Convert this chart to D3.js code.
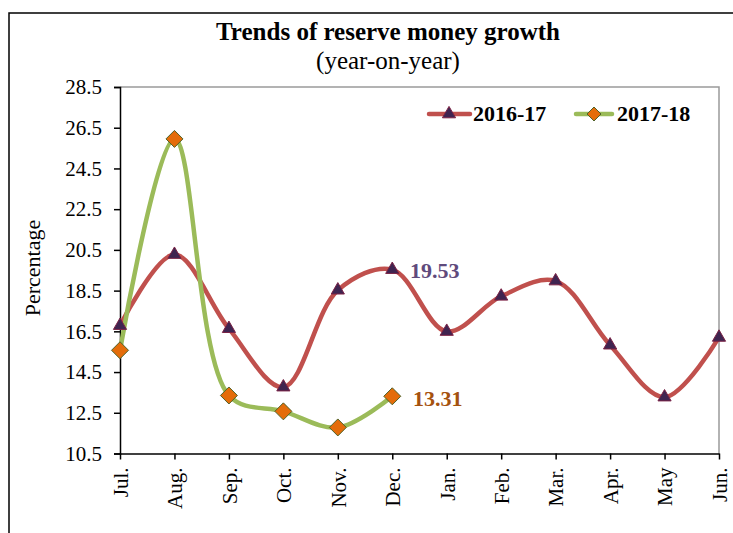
<!DOCTYPE html>
<html><head><meta charset="utf-8">
<script src="https://cdn.jsdelivr.net/npm/d3@7"></script>
<style>
html,body{margin:0;padding:0;background:#fff;}
svg{display:block;font-family:"Liberation Serif","Times New Roman",serif;}
</style></head>
<body><svg id="c" width="733" height="533"></svg>
<script>
const months = ["Jul.","Aug.","Sep.","Oct.","Nov.","Dec.","Jan.","Feb.","Mar.","Apr.","May","Jun."];
const series2016 = [16.78, 20.27, 16.63, 13.76, 18.52, 19.53, 16.49, 18.22, 18.97, 15.82, 13.27, 16.2];
const series2017 = [15.57, 25.95, 13.35, 12.57, 11.78, 13.31];
const yTicks = [10.5, 12.5, 14.5, 16.5, 18.5, 20.5, 22.5, 24.5, 26.5, 28.5];
const seriesNames = ["2016-17", "2017-18"];
const titleText = "Trends of reserve money growth";
const subtitleText = "(year-on-year)";
const yLabel = "Percentage";

const svg = d3.select("#c");
const L = 120, R = 719, T = 87, B = 453.5;
const x = d3.scalePoint().domain(months).range([L, R]);
const y = d3.scaleLinear().domain([10.5, 28.5]).range([B, T]);

// outer frame
svg.append("rect").attr("x", 9).attr("y", 13).attr("width", 740).attr("height", 540)
  .attr("fill", "none").attr("stroke", "#000").attr("stroke-width", 1.5);

// plot area border (gray top/right)
svg.append("path").attr("d", `M${L},${T}H${R}V${B}`).attr("fill", "none")
  .attr("stroke", "#9a9a9a").attr("stroke-width", 1.5);

// title
svg.append("text").attr("x", 388).attr("y", 40).attr("text-anchor", "middle")
  .attr("font-weight", "bold").attr("font-size", 25).text(titleText);
svg.append("text").attr("x", 388).attr("y", 69).attr("text-anchor", "middle")
  .attr("font-size", 25).text(subtitleText);

// axes
const yAxis = d3.axisLeft(y).tickValues(yTicks).tickFormat(d3.format(".1f")).tickSize(6).tickPadding(12);
const gy = svg.append("g").attr("transform", `translate(${L},0)`).call(yAxis);
gy.selectAll("text").attr("font-size", 21).attr("font-family", "Liberation Serif").attr("fill", "#000");
gy.selectAll("line,path").attr("stroke", "#000").attr("stroke-width", 1.5);

const xAxis = d3.axisBottom(x).tickSize(6).tickSizeOuter(0).tickPadding(8);
const gx = svg.append("g").attr("transform", `translate(0,${B})`).call(xAxis);
gx.selectAll("line,path").attr("stroke", "#000").attr("stroke-width", 1.5);
gx.selectAll("text").attr("font-size", 21).attr("font-family", "Liberation Serif").attr("fill", "#000")
  .attr("transform", "rotate(-90)").attr("text-anchor", "end")
  .attr("x", -14).attr("y", 0).attr("dy", "0.35em");

svg.append("text").attr("transform", `translate(40,268) rotate(-90)`).attr("text-anchor", "middle")
  .attr("font-size", 22).text(yLabel);

// lines
const line = d3.line().x((d, i) => x(months[i])).y(d => y(d)).curve(d3.curveCatmullRom.alpha(0.5));
const red = "#c0504d", green = "#9bbb59";
svg.append("path").datum(series2016).attr("d", line).attr("fill", "none").attr("stroke", red).attr("stroke-width", 4.5);
svg.append("path").datum(series2017).attr("d", line).attr("fill", "none").attr("stroke", green).attr("stroke-width", 4.5);

const tri = d3.symbol().type(d3.symbolTriangle).size(75);
const dia = (s) => `M0,${-s}L${s},0L0,${s}L${-s},0Z`;
svg.append("g").selectAll("path").data(series2016).join("path")
  .attr("transform", (d, i) => `translate(${x(months[i])},${y(d)})`)
  .attr("d", tri).attr("fill", "#3f2450").attr("stroke", "#7b2245").attr("stroke-width", 1);
svg.append("g").selectAll("path").data(series2017).join("path")
  .attr("transform", (d, i) => `translate(${x(months[i])},${y(d)})`)
  .attr("d", dia(8.5)).attr("fill", "#e46c0a").attr("stroke", "#4f6228").attr("stroke-width", 1);

// annotations
svg.append("text").attr("x", 410).attr("y", 278).attr("font-weight", "bold").attr("font-size", 22)
  .attr("fill", "#5f4a7c").text(d3.format(".2f")(series2016[5]));
svg.append("text").attr("x", 413).attr("y", 406).attr("font-weight", "bold").attr("font-size", 22)
  .attr("fill", "#a5520f").text(d3.format(".2f")(series2017[5]));

// legend
const lg = svg.append("g");
lg.append("line").attr("x1", 429).attr("x2", 470).attr("y1", 114).attr("y2", 114).attr("stroke", red).attr("stroke-width", 4.5).attr("stroke-linecap", "round");
lg.append("path").attr("transform", "translate(449,114)").attr("d", tri).attr("fill", "#3f2450").attr("stroke", "#7b2245");
lg.append("text").attr("x", 473).attr("y", 121).attr("font-weight", "bold").attr("font-size", 22).text(seriesNames[0]);
lg.append("line").attr("x1", 576).attr("x2", 612).attr("y1", 114).attr("y2", 114).attr("stroke", green).attr("stroke-width", 4.5).attr("stroke-linecap", "round");
lg.append("path").attr("transform", "translate(594,114)").attr("d", dia(7)).attr("fill", "#e46c0a").attr("stroke", "#4f6228");
lg.append("text").attr("x", 617).attr("y", 121).attr("font-weight", "bold").attr("font-size", 22).text(seriesNames[1]);
</script></body></html>
